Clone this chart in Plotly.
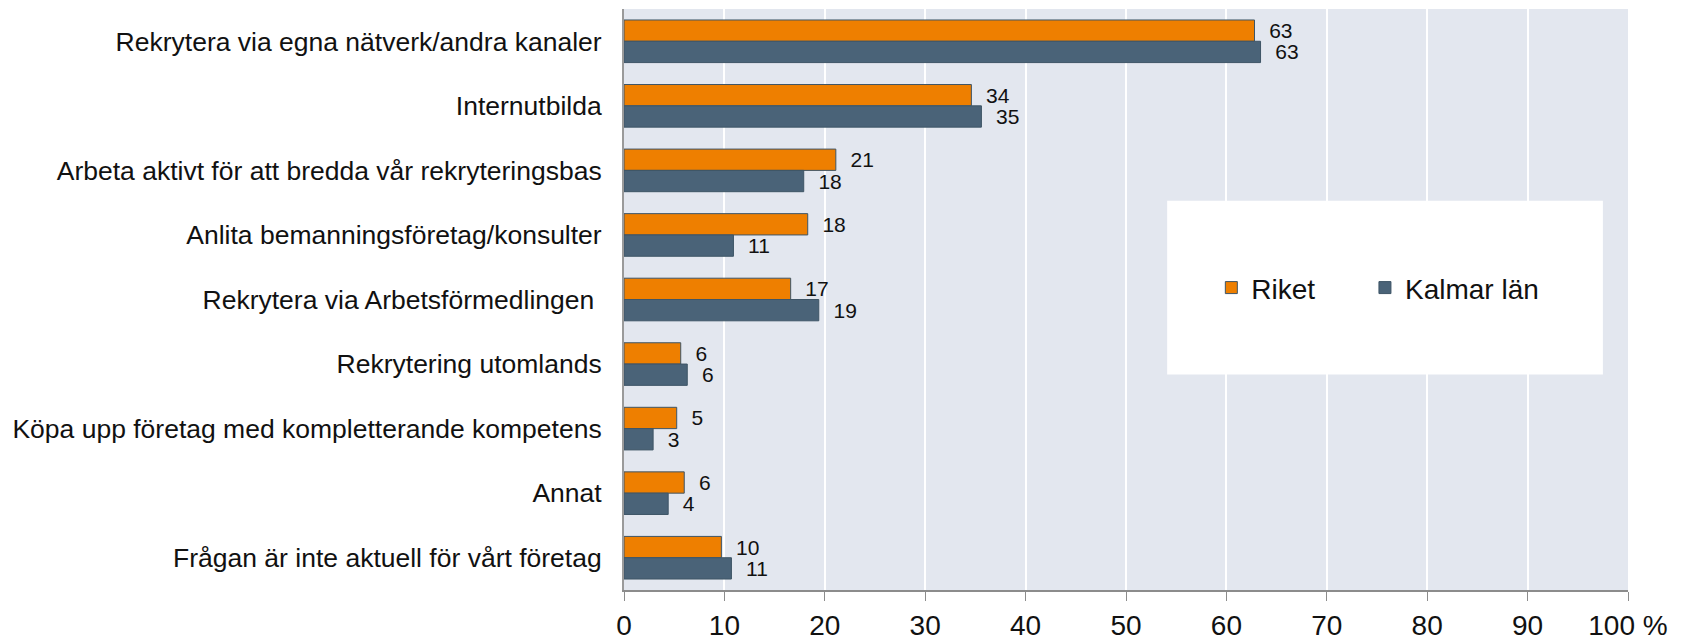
import plotly.graph_objects as go

categories = [
    "Rekrytera via egna nätverk/andra kanaler",
    "Internutbilda",
    "Arbeta aktivt för att bredda vår rekryteringsbas",
    "Anlita bemanningsföretag/konsulter",
    "Rekrytera via Arbetsförmedlingen\u00a0",
    "Rekrytering utomlands",
    "Köpa upp företag med kompletterande kompetens",
    "Annat",
    "Frågan är inte aktuell för vårt företag",
]
riket = [62.8, 34.6, 21.1, 18.3, 16.6, 5.65, 5.25, 6.0, 9.7]
kalmar = [63.4, 35.6, 17.9, 10.9, 19.4, 6.3, 2.9, 4.4, 10.7]
riket_labels = [63, 34, 21, 18, 17, 6, 5, 6, 10]
kalmar_labels = [63, 35, 18, 11, 19, 6, 3, 4, 11]
x_ticks = [0, 10, 20, 30, 40, 50, 60, 70, 80, 90, 100]
x_ticktext = ["0", "10", "20", "30", "40", "50", "60", "70", "80", "90", "100 %"]

FONT = "Arial, Liberation Sans, sans-serif"
ORANGE = "#EE7F00"
DARK = "#4A6378"
EDGE = "#3E5566"

fig = go.Figure()
fig.add_trace(go.Bar(
    y=categories, x=riket, orientation="h", name="Riket",
    marker=dict(color=ORANGE, line=dict(color=EDGE, width=1)),
    text=[f"  {v}" for v in riket_labels], textposition="outside",
    textfont=dict(family=FONT, size=21, color="#111111"),
    constraintext="none", cliponaxis=False, legend="legend",
))
fig.add_trace(go.Bar(
    y=categories, x=kalmar, orientation="h", name="Kalmar län",
    marker=dict(color=DARK, line=dict(color=EDGE, width=1)),
    text=[f"  {v}" for v in kalmar_labels], textposition="outside",
    textfont=dict(family=FONT, size=21, color="#111111"),
    constraintext="none", cliponaxis=False, legend="legend2",
))

legend_common = dict(
    orientation="h", yanchor="middle", xanchor="left",
    bgcolor="rgba(0,0,0,0)", font=dict(family=FONT, size=28, color="#111111"),
)
fig.update_layout(
    width=1696, height=642,
    margin=dict(l=624, r=68, t=9, b=52, autoexpand=False),
    paper_bgcolor="white", plot_bgcolor="#E3E7EF",
    barmode="group", bargap=0.34, bargroupgap=0,
    font=dict(family=FONT, color="#111111"),
    showlegend=True,
    legend=dict(x=0.585, y=0.52, **legend_common),
    legend2=dict(x=0.738, y=0.52, **legend_common),
    shapes=[dict(
        type="rect", xref="paper", yref="paper",
        x0=0.541, x1=0.975, y0=0.371, y1=0.670,
        fillcolor="white", line=dict(width=0), layer="above",
    )],
)
fig.update_xaxes(
    range=[0, 100], tickvals=x_ticks, ticktext=x_ticktext,
    showgrid=True, gridcolor="white", gridwidth=2,
    showline=True, linecolor="#8C8C8C", linewidth=2,
    ticks="outside", ticklen=9, tickcolor="#8C8C8C", tickwidth=1,
    tickfont=dict(family=FONT, size=28, color="#111111"),
    ticklabelstandoff=0, zeroline=False, automargin=False,
)
fig.update_yaxes(
    autorange="reversed", showgrid=False,
    showline=True, linecolor="#9A9A9A", linewidth=2,
    ticks="", tickfont=dict(family=FONT, size=26.5, color="#111111"),
    ticklabelstandoff=15, automargin=False,
)
fig.write_html(
    "out.html",
    config={"displayModeBar": False},
    post_script="document.body.style.margin='0px';document.body.style.overflow='hidden';",
)
